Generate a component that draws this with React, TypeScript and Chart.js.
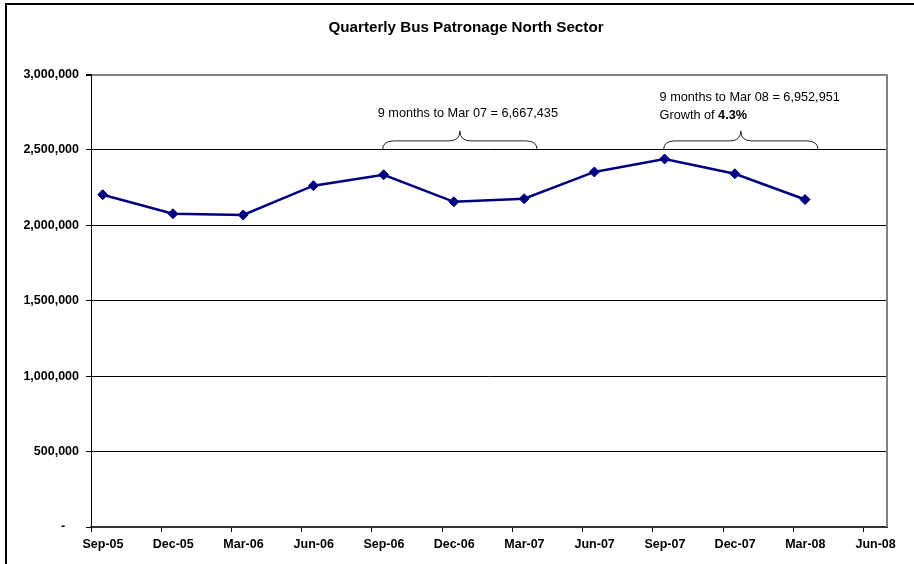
import React, { useEffect, useRef } from "react";
import { Chart, registerables } from "chart.js";

Chart.register(...registerables);

// ---- Data ----
const chartTitle = "Quarterly Bus Patronage North Sector";
const quarters = ["Sep-05", "Dec-05", "Mar-06", "Jun-06", "Sep-06", "Dec-06", "Mar-07", "Jun-07", "Sep-07", "Dec-07", "Mar-08"];
const axisTickLabels = ["Sep-05", "Dec-05", "Mar-06", "Jun-06", "Sep-06", "Dec-06", "Mar-07", "Jun-07", "Sep-07", "Dec-07", "Mar-08", "Jun-08"];
const patronage = [2203000, 2077000, 2069000, 2263000, 2335000, 2156000, 2176435, 2354000, 2440000, 2342000, 2170951];
const yTickValues = [0, 500000, 1000000, 1500000, 2000000, 2500000, 3000000];
const braceFromQuarter = ["Sep-06", "Sep-07"];
const braceToQuarter = ["Mar-07", "Mar-08"];
const braceBaseValue = [2500000, 2500000];
const noteLine1 = ["9 months to Mar 07 = 6,667,435", "9 months to Mar 08 = 6,952,951"];
const noteGrowthPrefix = ["", "Growth of "];
const noteGrowthValue = ["", "4.3%"];

// axis units: months since Sep-05; each quarter's point sits mid-month
const MONTHS_PER_Q = 3;
const POINT_OFFSET = 0.5;
const AXIS_MAX_MONTHS = 34;

const FONT = "'Liberation Sans', Arial, Helvetica, sans-serif";

const braceOverlay = {
  id: "braceOverlay",
  afterDraw(chart: any) {
    const ctx = chart.ctx;
    const xs = chart.scales.x;
    const ys = chart.scales.y;
    const area = chart.chartArea;
    ctx.save();
    // title, centred on the whole framed chart
    ctx.fillStyle = "#000";
    ctx.font = `bold 15.2px ${FONT}`;
    ctx.textAlign = "center";
    ctx.textBaseline = "middle";
    ctx.fillText(chartTitle, 466, 28);

    // plot area right border
    ctx.strokeStyle = "#808080";
    ctx.lineWidth = 2;
    ctx.beginPath();
    ctx.moveTo(area.right, area.top);
    ctx.lineTo(area.right, area.bottom);
    ctx.stroke();

    for (let k = 0; k < braceFromQuarter.length; k++) {
      const i1 = quarters.indexOf(braceFromQuarter[k]);
      const i2 = quarters.indexOf(braceToQuarter[k]);
      const x1 = xs.getPixelForValue(i1 * MONTHS_PER_Q + POINT_OFFSET) - 1;
      const x2 = xs.getPixelForValue(i2 * MONTHS_PER_Q + POINT_OFFSET) + 13;
      const yb = ys.getPixelForValue(braceBaseValue[k]);
      const yf = yb - 9;
      const yp = yb - 19;
      const xm = (x1 + x2) / 2;
      const r = 11;
      ctx.strokeStyle = "#222";
      ctx.lineWidth = 1;
      ctx.beginPath();
      ctx.moveTo(x1, yb);
      ctx.quadraticCurveTo(x1, yf, x1 + r, yf);
      ctx.lineTo(xm - r, yf);
      ctx.quadraticCurveTo(xm, yf, xm, yp);
      ctx.quadraticCurveTo(xm, yf, xm + r, yf);
      ctx.lineTo(x2 - r, yf);
      ctx.quadraticCurveTo(x2, yf, x2, yb);
      ctx.stroke();

      ctx.fillStyle = "#000";
      ctx.textBaseline = "middle";
      if (!noteGrowthPrefix[k]) {
        ctx.font = `12.7px ${FONT}`;
        ctx.textAlign = "center";
        ctx.fillText(noteLine1[k], xm + 8, yp - 17);
      } else {
        ctx.font = `12.7px ${FONT}`;
        ctx.textAlign = "left";
        const lx = x1 - 4;
        ctx.fillText(noteLine1[k], lx, yp - 33);
        ctx.fillText(noteGrowthPrefix[k], lx, yp - 15);
        const w = ctx.measureText(noteGrowthPrefix[k]).width;
        ctx.font = `bold 12.7px ${FONT}`;
        ctx.fillText(noteGrowthValue[k], lx + w, yp - 15);
      }
    }
    ctx.restore();
  },
};

export default function App() {
  const ref = useRef<HTMLCanvasElement | null>(null);

  useEffect(() => {
    if (!ref.current) return;
    const points = patronage.map((v, i) => ({ x: i * MONTHS_PER_Q + POINT_OFFSET, y: v }));
    const chart = new Chart(ref.current, {
      type: "line",
      data: {
        datasets: [
          {
            label: "Patronage",
            data: points,
            borderColor: "#000080",
            backgroundColor: "#000080",
            borderWidth: 2.5,
            pointStyle: "rectRot",
            pointRadius: 5,
            pointBorderWidth: 1,
            pointBackgroundColor: "#000080",
            pointBorderColor: "#000080",
            tension: 0,
          },
        ],
      },
      options: {
        responsive: false,
        animation: false,
        devicePixelRatio: 1,
        layout: { padding: { left: 0, right: 27, top: 74.5, bottom: 0 } },
        plugins: {
          legend: { display: false },
          tooltip: { enabled: false },
          title: { display: false },
        },
        scales: {
          x: {
            type: "linear",
            min: 0,
            max: AXIS_MAX_MONTHS,
            afterBuildTicks: (scale: any) => {
              scale.ticks = axisTickLabels.map((_, i) => ({ value: i * MONTHS_PER_Q }));
            },
            afterFit: (scale: any) => {
              scale.height = 37;
            },
            ticks: {
              autoSkip: false,
              maxRotation: 0,
              labelOffset: 12,
              padding: 5,
              color: "#000",
              font: { family: FONT, size: 12.5, weight: "bold" },
              callback: (v: any) => axisTickLabels[Math.round(Number(v) / MONTHS_PER_Q)] ?? "",
            },
            grid: {
              drawOnChartArea: false,
              drawTicks: true,
              tickLength: 5,
              color: "#000",
            },
            border: { color: "#333", width: 2 },
          },
          y: {
            min: 0,
            max: 3000000,
            afterBuildTicks: (scale: any) => {
              scale.ticks = yTickValues.map((v) => ({ value: v }));
            },
            afterFit: (scale: any) => {
              scale.width = 91;
            },
            ticks: {
              padding: 7,
              color: "#000",
              font: { family: FONT, size: 12.5, weight: "bold" },
              callback: (v: any) => (Number(v) === 0 ? "-    " : Number(v).toLocaleString("en-US")),
            },
            grid: {
              color: (c: any) => (c.tick && c.tick.value === 3000000 ? "#808080" : "#000"),
              lineWidth: (c: any) => (c.tick && c.tick.value === 3000000 ? 2 : 1),
              tickColor: "#000",
              tickLength: 5,
            },
            border: { color: "#000", width: 1 },
          },
        },
      },
      plugins: [braceOverlay],
    });
    return () => chart.destroy();
  }, []);

  return (
    <div style={{ position: "absolute", left: 0, top: 0, width: 914, height: 564, background: "#fff", overflow: "hidden" }}>
      <canvas ref={ref} width={914} height={564} style={{ position: "absolute", left: 0, top: 0 }} />
      <div
        style={{
          position: "absolute",
          left: 5,
          top: 3,
          width: 909,
          height: 561,
          borderLeft: "2px solid #000",
          borderTop: "2px solid #000",
          boxSizing: "border-box",
          pointerEvents: "none",
        }}
      />
    </div>
  );
}
